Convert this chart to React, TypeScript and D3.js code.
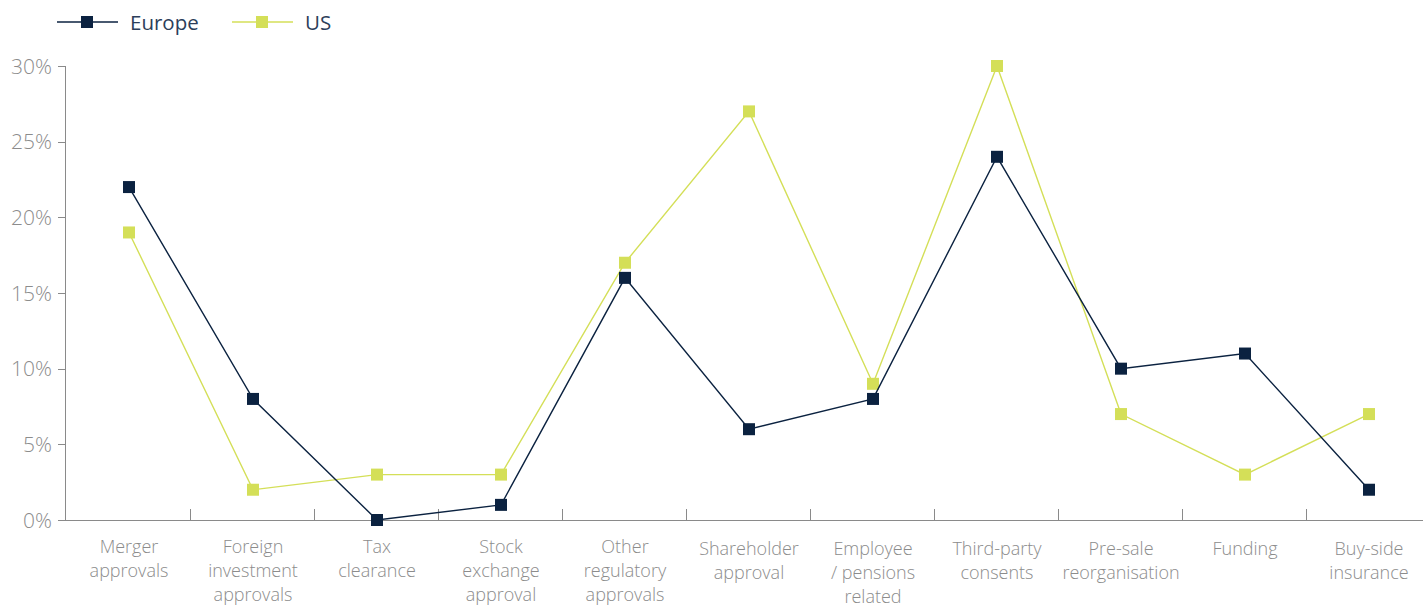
import React from "react";
import * as d3 from "d3";

const categories: string[][] = [
  ["Merger", "approvals"],
  ["Foreign", "investment", "approvals"],
  ["Tax", "clearance"],
  ["Stock", "exchange", "approval"],
  ["Other", "regulatory", "approvals"],
  ["Shareholder", "approval"],
  ["Employee", "/ pensions", "related"],
  ["Third-party", "consents"],
  ["Pre-sale", "reorganisation"],
  ["Funding"],
  ["Buy-side", "insurance"],
];
const europe = [22, 8, 0, 1, 16, 6, 8, 24, 10, 11, 2];
const us = [19, 2, 3, 3, 17, 27, 9, 30, 7, 3, 7];
const yTicks = [0, 5, 10, 15, 20, 25, 30];

const W = 1423;
const H = 606;
const FONT = "'Open Sans', 'Noto Sans', sans-serif";
const EU_COLOR = "#0b2240";
const US_COLOR = "#d4df58";
const AXIS = "#8a8a8a";
const LABEL = "#8c8c8c";

export default function App() {
  const x = d3
    .scaleBand<number>()
    .domain(categories.map((_, i) => i))
    .range([66, 66 + 11 * 124]);
  const y = d3.scaleLinear().domain([0, 30]).range([520, 66]);
  const cx = (i: number) => (x(i) as number) + x.bandwidth() / 2 + 1;
  const line = d3
    .line<number>()
    .x((_, i) => cx(i))
    .y((d) => y(d));

  const series = [
    { name: "Europe", values: europe, color: EU_COLOR },
    { name: "US", values: us, color: US_COLOR },
  ];
  const ms = 12;

  return (
    <svg
      width={W}
      height={H}
      style={{ position: "absolute", left: 0, top: 0, display: "block" }}
      fontFamily={FONT}
    >
      {/* legend */}
      {series.map((s, k) => {
        const lx = 57 + k * 175;
        return (
          <g key={s.name}>
            <line x1={lx} x2={lx + 61} y1={22} y2={22} stroke={s.color} strokeWidth={1.4} />
            <rect x={lx + 24} y={16} width={ms} height={ms} fill={s.color} />
            <text x={lx + 73} y={29.5} fontSize={20.5} fill="#2c3e5a">
              {s.name}
            </text>
          </g>
        );
      })}

      {/* y axis */}
      <line x1={65.5} x2={65.5} y1={y(30)} y2={y(0)} stroke={AXIS} strokeWidth={1} />
      {yTicks.map((t) => (
        <g key={t}>
          <line x1={58} x2={65.5} y1={Math.round(y(t)) + 0.5} y2={Math.round(y(t)) + 0.5} stroke={AXIS} />
          <text
            x={52}
            y={y(t) + 7.5}
            textAnchor="end"
            fontSize={21}
            fontWeight={300}
            fill={LABEL}
          >
            {t}%
          </text>
        </g>
      ))}

      {/* x axis */}
      <line x1={65} x2={W} y1={520.5} y2={520.5} stroke={AXIS} strokeWidth={1} />
      {categories.slice(1).map((_, i) => {
        const bx = Math.round(x(i + 1) as number) + 0.5;
        return <line key={i} x1={bx} x2={bx} y1={509} y2={520.5} stroke={AXIS} />;
      })}
      {categories.map((lines, i) => (
        <text
          key={i}
          x={cx(i)}
          y={(i < 5 ? 546 : 548) + 6.5}
          textAnchor="middle"
          fontSize={18}
          fontWeight={300}
          fill={LABEL}
        >
          {lines.map((l, j) => (
            <tspan key={j} x={cx(i)} dy={j === 0 ? 0 : 24}>
              {l}
            </tspan>
          ))}
        </text>
      ))}

      {/* series */}
      {series
        .slice()
        .reverse()
        .map((s) => (
          <g key={s.name}>
            <path d={line(s.values) as string} fill="none" stroke={s.color} strokeWidth={1.4} />
            {s.values.map((v, i) => (
              <rect
                key={i}
                x={cx(i) - ms / 2}
                y={y(v) - ms / 2}
                width={ms}
                height={ms}
                fill={s.color}
              />
            ))}
          </g>
        ))}
    </svg>
  );
}
